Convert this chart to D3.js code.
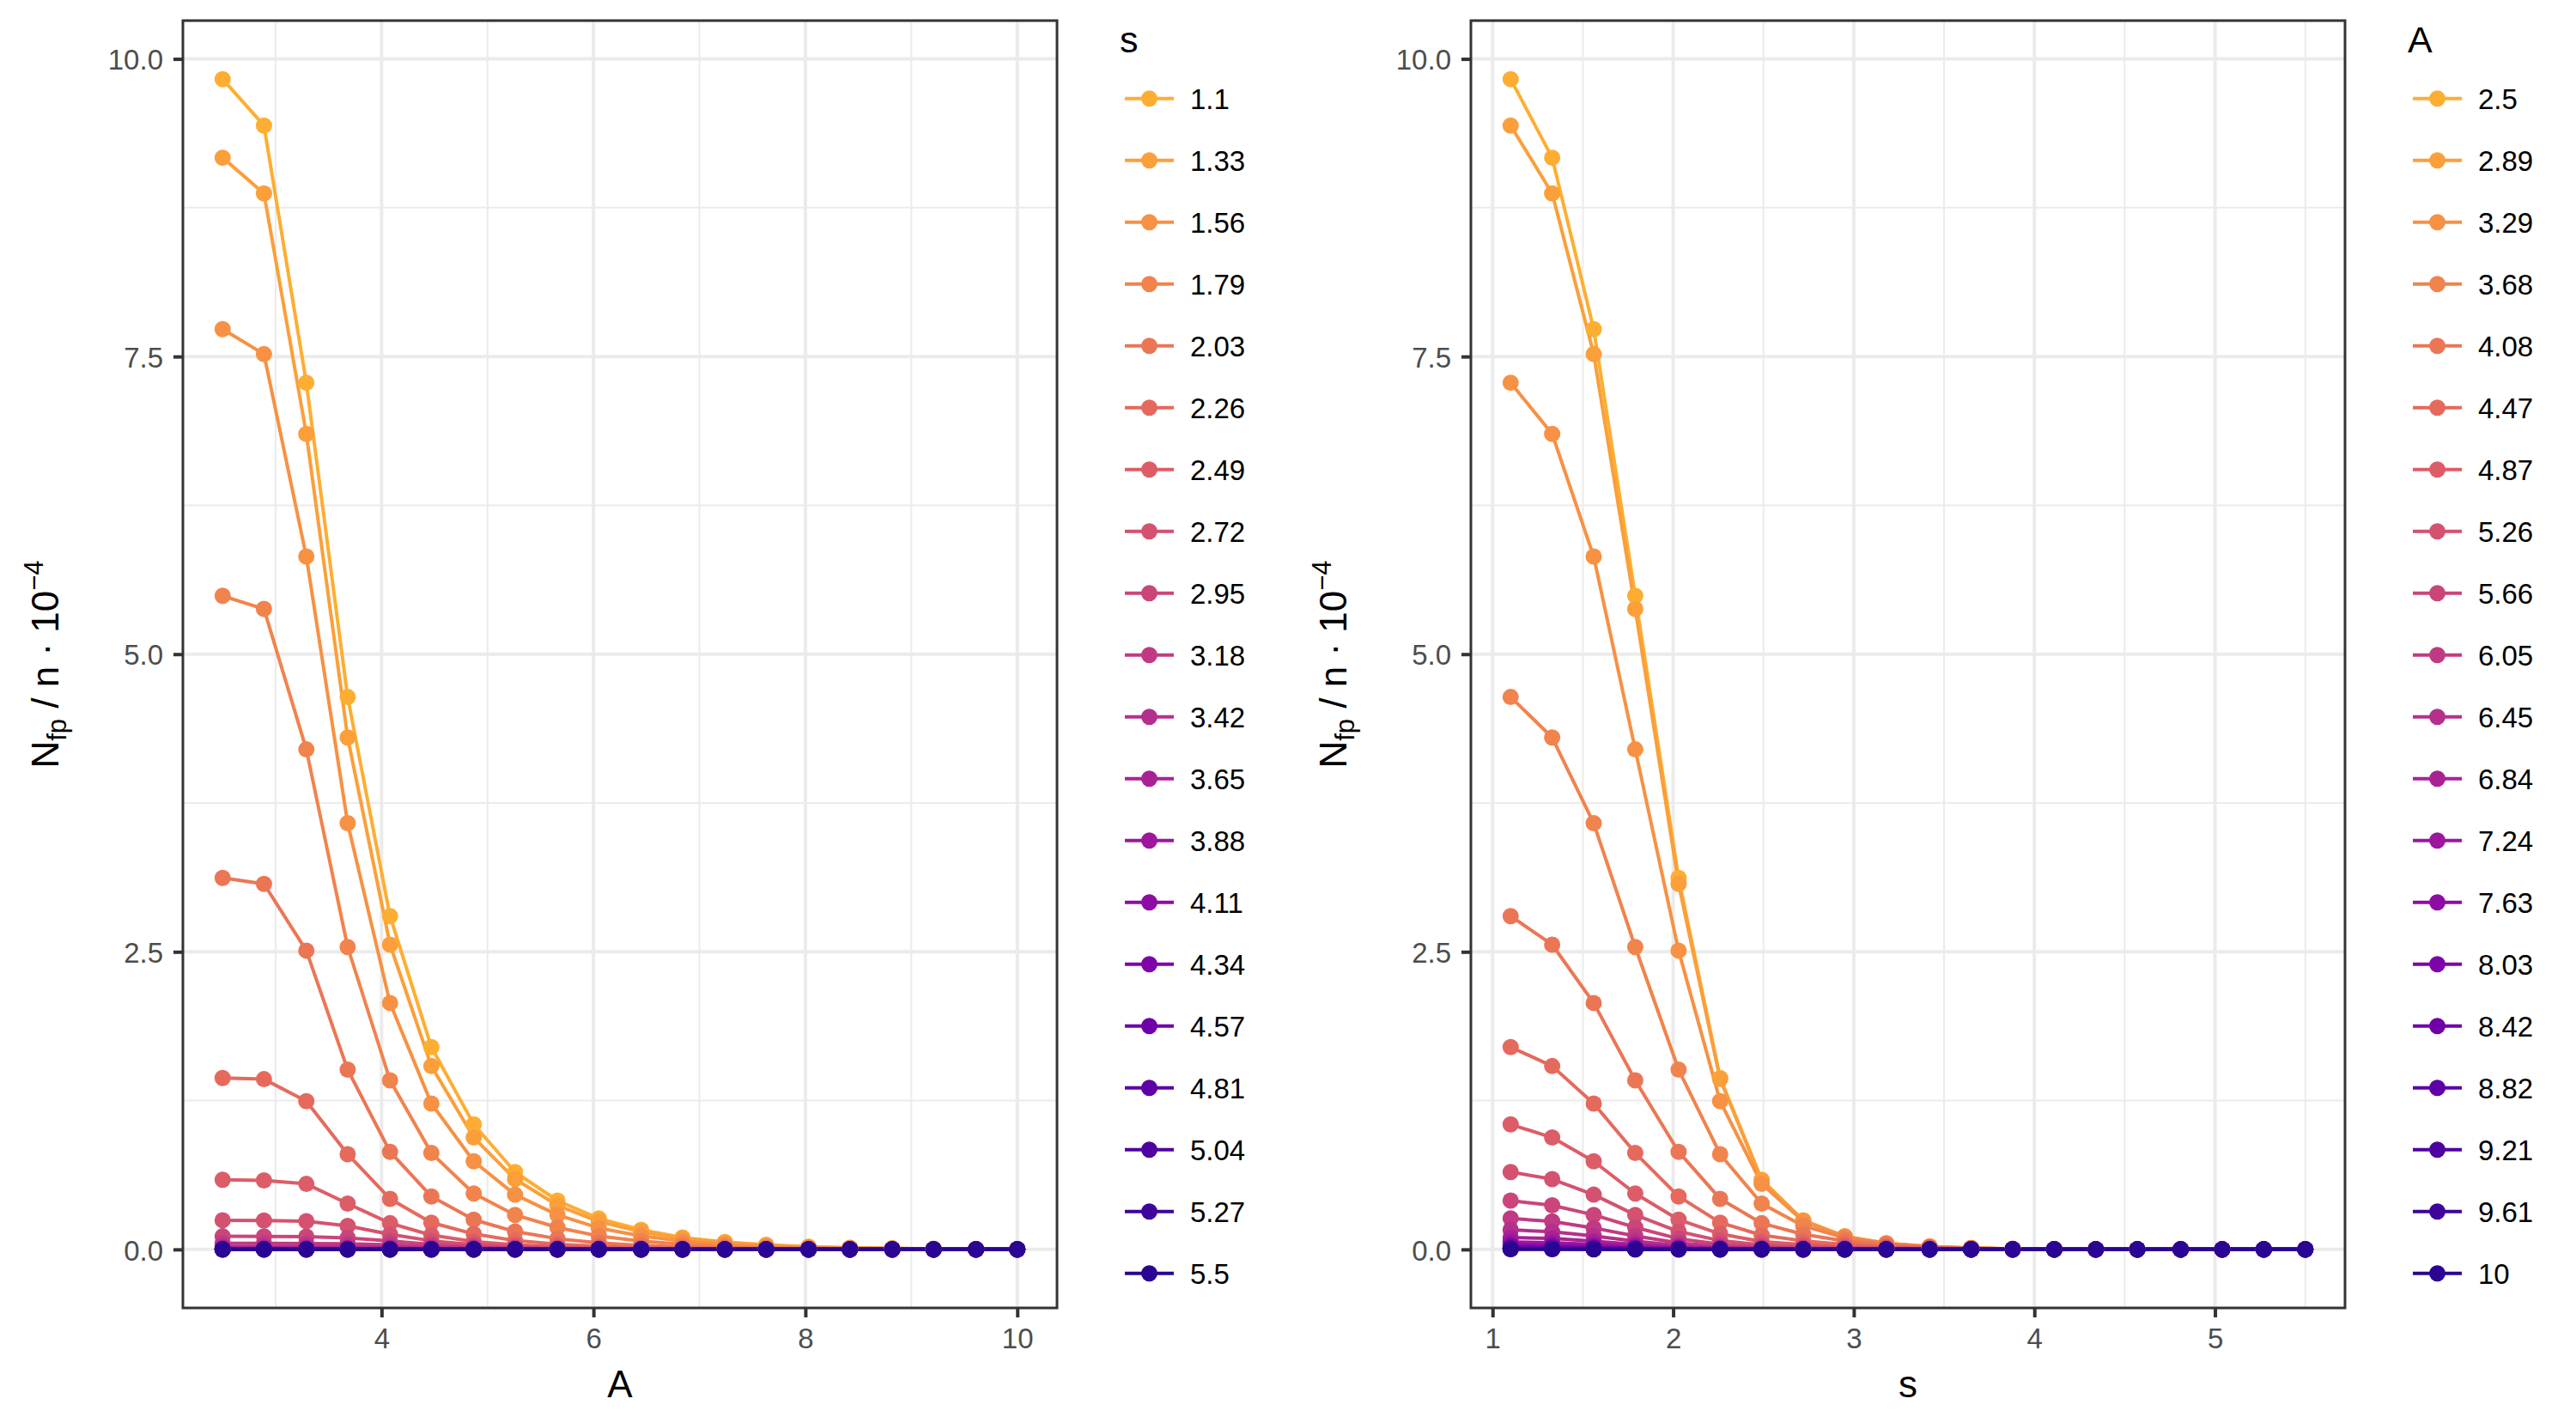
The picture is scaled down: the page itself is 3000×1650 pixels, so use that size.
<!DOCTYPE html>
<html>
<head>
<meta charset="utf-8">
<script src="https://cdn.jsdelivr.net/npm/d3@7/dist/d3.min.js"></script>
<style>
  body { margin: 0; background: #ffffff; }
  text { font-family: "Liberation Sans", Arial, Helvetica, sans-serif; }
</style>
</head>
<body>
<script>

// *** DATA ***

// grid of the two parameters
var A_vals = [2.5, 2.89, 3.29, 3.68, 4.08, 4.47, 4.87, 5.26, 5.66, 6.05, 6.45, 6.84, 7.24, 7.63, 8.03, 8.42, 8.82, 9.21, 9.61, 10];
var s_vals = [1.1, 1.33, 1.56, 1.79, 2.03, 2.26, 2.49, 2.72, 2.95, 3.18, 3.42, 3.65, 3.88, 4.11, 4.34, 4.57, 4.81, 5.04, 5.27, 5.5];

// N_fp / n (in units of 1e-4), one array per s, values along A_vals
var nfp_s1_10 = [9.83, 9.44, 7.28, 4.64, 2.80, 1.70, 1.05, 0.65, 0.41, 0.26, 0.165, 0.10, 0.063, 0.038, 0.023, 0.014, 0.009, 0.005, 0.003, 0.002];
var nfp_s1_33 = [9.17, 8.87, 6.85, 4.30, 2.56, 1.54, 0.94, 0.59, 0.37, 0.235, 0.148, 0.092, 0.057, 0.035, 0.021, 0.013, 0.008, 0.005, 0.003, 0.002];
var nfp_s1_56 = [7.73, 7.52, 5.82, 3.58, 2.07, 1.225, 0.74, 0.46, 0.29, 0.18, 0.113, 0.07, 0.043, 0.026, 0.016, 0.01, 0.006, 0.004, 0.002, 0.001];
var nfp_s1_79 = [5.49, 5.38, 4.20, 2.54, 1.42, 0.81, 0.47, 0.29, 0.185, 0.112, 0.07, 0.043, 0.026, 0.016, 0.01, 0.006, 0.004, 0.002, 0.001, 0.001];
var nfp_s2_03 = [3.12, 3.07, 2.51, 1.51, 0.82, 0.445, 0.25, 0.15, 0.09, 0.055, 0.034, 0.021, 0.013, 0.008, 0.005, 0.003, 0.002, 0.001, 0.001, 0];
var nfp_s2_26 = [1.44, 1.43, 1.245, 0.80, 0.425, 0.225, 0.13, 0.074, 0.044, 0.026, 0.016, 0.01, 0.006, 0.004, 0.002, 0.001, 0.001, 0, 0, 0];
var nfp_s2_49 = [0.585, 0.58, 0.55, 0.385, 0.22, 0.12, 0.066, 0.038, 0.022, 0.013, 0.008, 0.005, 0.003, 0.002, 0.001, 0.001, 0, 0, 0, 0];
var nfp_s2_72 = [0.245, 0.243, 0.237, 0.198, 0.127, 0.072, 0.04, 0.023, 0.013, 0.008, 0.005, 0.003, 0.002, 0.001, 0.001, 0, 0, 0, 0, 0];
var nfp_s2_95 = [0.11, 0.109, 0.107, 0.097, 0.071, 0.043, 0.025, 0.014, 0.008, 0.005, 0.003, 0.002, 0.001, 0.001, 0, 0, 0, 0, 0, 0];
var nfp_s3_18 = [0.052, 0.051, 0.05, 0.047, 0.038, 0.025, 0.015, 0.009, 0.005, 0.003, 0.002, 0.001, 0.001, 0, 0, 0, 0, 0, 0, 0];
var nfp_s3_42 = [0.024, 0.024, 0.023, 0.022, 0.019, 0.014, 0.009, 0.005, 0.003, 0.002, 0.001, 0.001, 0, 0, 0, 0, 0, 0, 0, 0];
var nfp_s3_65 = [0.011, 0.011, 0.011, 0.01, 0.009, 0.007, 0.005, 0.003, 0.002, 0.001, 0.001, 0, 0, 0, 0, 0, 0, 0, 0, 0];
var nfp_s3_88 = [0.005, 0.005, 0.005, 0.005, 0.004, 0.003, 0.003, 0.002, 0.001, 0.001, 0, 0, 0, 0, 0, 0, 0, 0, 0, 0];
var nfp_s4_11 = [0.002, 0.002, 0.002, 0.002, 0.002, 0.002, 0.001, 0.001, 0.001, 0, 0, 0, 0, 0, 0, 0, 0, 0, 0, 0];
var nfp_s4_34 = [0.001, 0.001, 0.001, 0.001, 0.001, 0.001, 0.001, 0, 0, 0, 0, 0, 0, 0, 0, 0, 0, 0, 0, 0];
var nfp_s4_57 = [0.001, 0.001, 0, 0, 0, 0, 0, 0, 0, 0, 0, 0, 0, 0, 0, 0, 0, 0, 0, 0];
var nfp_s4_81 = [0, 0, 0, 0, 0, 0, 0, 0, 0, 0, 0, 0, 0, 0, 0, 0, 0, 0, 0, 0];
var nfp_s5_04 = [0, 0, 0, 0, 0, 0, 0, 0, 0, 0, 0, 0, 0, 0, 0, 0, 0, 0, 0, 0];
var nfp_s5_27 = [0, 0, 0, 0, 0, 0, 0, 0, 0, 0, 0, 0, 0, 0, 0, 0, 0, 0, 0, 0];
var nfp_s5_50 = [0, 0, 0, 0, 0, 0, 0, 0, 0, 0, 0, 0, 0, 0, 0, 0, 0, 0, 0, 0];

var nfp_rows = [nfp_s1_10, nfp_s1_33, nfp_s1_56, nfp_s1_79, nfp_s2_03, nfp_s2_26, nfp_s2_49,
                nfp_s2_72, nfp_s2_95, nfp_s3_18, nfp_s3_42, nfp_s3_65, nfp_s3_88, nfp_s4_11,
                nfp_s4_34, nfp_s4_57, nfp_s4_81, nfp_s5_04, nfp_s5_27, nfp_s5_50];

// tick values
var y_ticks = [0, 2.5, 5, 7.5, 10];
var y_minor = [1.25, 3.75, 6.25, 8.75];
var A_ticks = [4, 6, 8, 10];
var A_minor = [3, 5, 7, 9];
var s_ticks = [1, 2, 3, 4, 5];
var s_minor = [1.5, 2.5, 3.5, 4.5, 5.5];

// *** LAYOUT ***

var W = 3000, H = 1650;
var pL = 213, pR = 1231, pT = 24, pB = 1523;   // panel box inside each 1500px half
var tickLen = 11;
var axisGrey = "#4D4D4D", darkGrey = "#333333", gridGrey = "#EBEBEB";

// plasma, yellow-orange first, dark blue last
function seriesColor(i) {
	return d3.interpolatePlasma(0.82 - i * (0.77 / 19));
}

// ggplot style 5% expansion
function expand(ext) {
	var r = ext[1] - ext[0];
	return [ext[0] - 0.05 * r, ext[1] + 0.05 * r];
}

var yMax = d3.max(nfp_rows, function(r) { return d3.max(r); });

var svg = d3.select("body").append("svg")
	.attr("width", W)
	.attr("height", H);

svg.append("rect").attr("width", W).attr("height", H).attr("fill", "#ffffff");

// FUNCTION: draw one plot (panel + axes + legend)
function drawPlot(offX, cfg, idx) {

	var g = svg.append("g").attr("transform", "translate(" + offX + ",0)");

	var x = d3.scaleLinear().domain(expand(d3.extent(cfg.xVals))).range([pL, pR]);
	var y = d3.scaleLinear().domain(expand([0, yMax])).range([pB, pT]);

	g.append("clipPath").attr("id", "clip" + idx)
	  .append("rect")
		.attr("x", pL).attr("y", pT)
		.attr("width", pR - pL).attr("height", pB - pT);

	var panel = g.append("g").attr("clip-path", "url(#clip" + idx + ")");

	// grid
	panel.selectAll(".gxm").data(cfg.xMinor).enter().append("line")
		.attr("x1", function(d) { return x(d); }).attr("x2", function(d) { return x(d); })
		.attr("y1", pT).attr("y2", pB)
		.attr("stroke", gridGrey).attr("stroke-width", 2);
	panel.selectAll(".gym").data(y_minor).enter().append("line")
		.attr("y1", function(d) { return y(d); }).attr("y2", function(d) { return y(d); })
		.attr("x1", pL).attr("x2", pR)
		.attr("stroke", gridGrey).attr("stroke-width", 2);
	panel.selectAll(".gx").data(cfg.xTicks).enter().append("line")
		.attr("x1", function(d) { return x(d); }).attr("x2", function(d) { return x(d); })
		.attr("y1", pT).attr("y2", pB)
		.attr("stroke", gridGrey).attr("stroke-width", 4);
	panel.selectAll(".gy").data(y_ticks).enter().append("line")
		.attr("y1", function(d) { return y(d); }).attr("y2", function(d) { return y(d); })
		.attr("x1", pL).attr("x2", pR)
		.attr("stroke", gridGrey).attr("stroke-width", 4);

	// lines
	var line = d3.line()
		.x(function(d) { return x(d.x); })
		.y(function(d) { return y(d.y); });

	panel.selectAll(".series").data(cfg.series).enter().append("path")
		.attr("d", function(d) { return line(d.points); })
		.attr("fill", "none")
		.attr("stroke", function(d) { return d.color; })
		.attr("stroke-width", 4)
		.attr("stroke-linejoin", "round");

	// points
	cfg.series.forEach(function(sr) {
		panel.append("g").selectAll("circle").data(sr.points).enter().append("circle")
			.attr("cx", function(d) { return x(d.x); })
			.attr("cy", function(d) { return y(d.y); })
			.attr("r", 9.5)
			.attr("fill", sr.color);
	});

	// border
	g.append("rect")
		.attr("x", pL).attr("y", pT)
		.attr("width", pR - pL).attr("height", pB - pT)
		.attr("fill", "none")
		.attr("stroke", darkGrey)
		.attr("stroke-width", 3);

	// axes
	var yAxis = g.append("g")
		.attr("transform", "translate(" + pL + ",0)")
		.call(d3.axisLeft(y).tickValues(y_ticks).tickFormat(d3.format(".1f"))
			.tickSize(tickLen).tickPadding(12));
	var xAxis = g.append("g")
		.attr("transform", "translate(0," + pB + ")")
		.call(d3.axisBottom(x).tickValues(cfg.xTicks).tickFormat(d3.format("d"))
			.tickSize(tickLen).tickPadding(13));

	[yAxis, xAxis].forEach(function(ax) {
		ax.select(".domain").remove();
		ax.selectAll(".tick line").attr("stroke", darkGrey).attr("stroke-width", 4);
		ax.selectAll(".tick text").attr("fill", axisGrey).style("font-size", "33px");
	});
	yAxis.selectAll(".tick text").attr("dy", "0.37em");

	// axis titles
	g.append("text")
		.attr("x", (pL + pR) / 2).attr("y", 1627)
		.attr("text-anchor", "middle")
		.style("font-size", "44px")
		.text(cfg.xTitle);

	var yt = g.append("text")
		.attr("transform", "translate(68," + ((pT + pB) / 2) + ") rotate(-90)")
		.attr("text-anchor", "middle")
		.style("font-size", "44px");
	yt.append("tspan").text("N");
	yt.append("tspan").attr("dy", 9).style("font-size", "31px").text("fp");
	yt.append("tspan").attr("dy", -9).text(" / n \u00B7 10");
	yt.append("tspan").attr("dy", -18).style("font-size", "31px").text("\u22124");

	// legend
	var lg = g.append("g");
	lg.append("text")
		.attr("x", 1304).attr("y", 61)
		.style("font-size", "43px")
		.text(cfg.legendTitle);

	var keys = lg.selectAll(".key").data(cfg.series).enter().append("g")
		.attr("transform", function(d, i) { return "translate(0," + (114.7 + i * 72) + ")"; });
	keys.append("line")
		.attr("x1", 1310).attr("x2", 1367)
		.attr("stroke", function(d) { return d.color; })
		.attr("stroke-width", 4);
	keys.append("circle")
		.attr("cx", 1338.5).attr("r", 9.5)
		.attr("fill", function(d) { return d.color; });
	keys.append("text")
		.attr("x", 1386).attr("dy", "0.37em")
		.style("font-size", "33px")
		.text(function(d) { return d.label; });
}

// *** CODE ***

// left: N vs A, coloured by s
var seriesByS = s_vals.map(function(s, i) {
	return {
		label: String(s),
		color: seriesColor(i),
		points: A_vals.map(function(a, j) { return { x: a, y: nfp_rows[i][j] }; })
	};
});

// right: N vs s, coloured by A
var seriesByA = A_vals.map(function(a, j) {
	return {
		label: String(a),
		color: seriesColor(j),
		points: s_vals.map(function(s, i) { return { x: s, y: nfp_rows[i][j] }; })
	};
});

drawPlot(0, {
	xVals: A_vals, xTicks: A_ticks, xMinor: A_minor,
	series: seriesByS, xTitle: "A", legendTitle: "s"
}, 0);

drawPlot(1500, {
	xVals: s_vals, xTicks: s_ticks, xMinor: s_minor,
	series: seriesByA, xTitle: "s", legendTitle: "A"
}, 1);

</script>
</body>
</html>
